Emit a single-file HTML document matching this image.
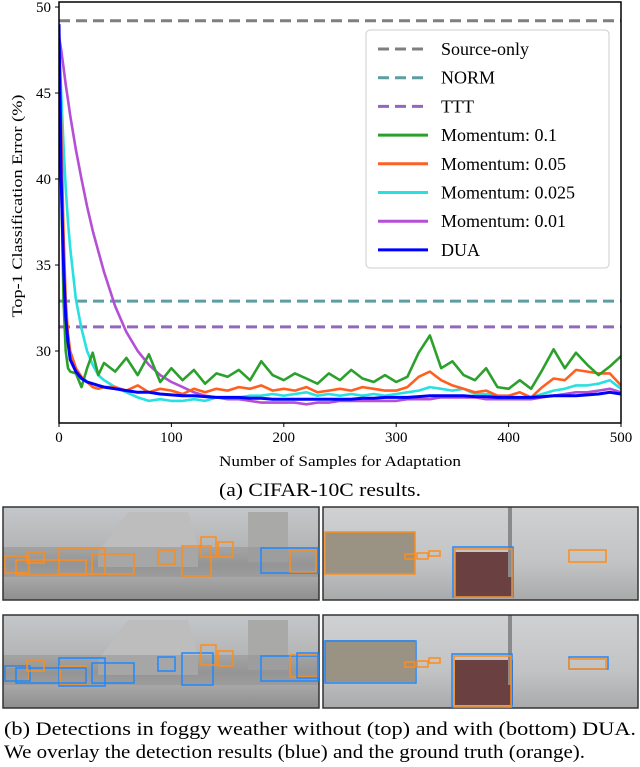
<!DOCTYPE html>
<html><head><meta charset="utf-8"><style>
body{margin:0;background:#fff;width:640px;height:767px;overflow:hidden;font-family:"Liberation Serif",serif}
svg{position:absolute;left:0;top:0}
</style></head><body>
<svg width="640" height="767" viewBox="0 0 640 767">
<defs>
<linearGradient id="fogL" x1="0" y1="0" x2="0" y2="1"><stop offset="0" stop-color="#c4c7ca"/><stop offset="0.45" stop-color="#b3b4b5"/><stop offset="0.62" stop-color="#9a9a9a"/><stop offset="0.75" stop-color="#a8a8a8"/><stop offset="1" stop-color="#8e8e8e"/></linearGradient>
<linearGradient id="fogR" x1="0" y1="0" x2="0" y2="1"><stop offset="0" stop-color="#cfd1d3"/><stop offset="0.6" stop-color="#c2c3c4"/><stop offset="1" stop-color="#a9aaab"/></linearGradient>
</defs>
<g id="chart"></g>
<text x="320" y="496" text-anchor="middle" font-size="19" textLength="202" lengthAdjust="spacingAndGlyphs">(a) CIFAR-10C results.</text>
<g id="photos"></g>
<text x="4" y="735" font-size="19" textLength="632" lengthAdjust="spacingAndGlyphs">(b) Detections in foggy weather without (top) and with (bottom) DUA.</text>
<text x="4" y="758" font-size="19" textLength="581" lengthAdjust="spacingAndGlyphs">We overlay the detection results (blue) and the ground truth (orange).</text>
</svg>
<script>
const xs=[0,2,4,6,8,10,15,20,25,30,35,40,50,60,70,80,90,100,110,120,130,140,150,160,170,180,190,200,210,220,230,240,250,260,270,280,290,300,310,320,330,340,350,360,370,380,390,400,410,420,430,440,450,460,470,480,490,500];
const mom01=[48,40,33,30,29,28.8,28.7,27.9,29,29.9,28.6,29.3,28.8,29.6,28.6,29.8,28.2,29.0,28.3,28.9,28.1,28.7,28.5,28.9,28.3,29.4,28.6,28.3,28.7,28.4,28.1,28.7,28.3,28.9,28.4,28.2,28.6,28.2,28.5,29.9,30.9,29.0,29.4,28.6,28.3,29.0,27.9,27.8,28.3,27.8,28.9,30.1,29.0,29.9,29.2,28.6,29.1,29.7];
const mom005=[48,43,37,33,31,30,29,28.5,28.2,27.9,27.8,27.9,27.9,27.7,28.0,27.6,27.8,27.7,27.5,27.8,27.6,27.8,27.7,27.9,27.8,28.0,27.7,27.8,27.7,27.9,27.6,27.7,27.8,27.7,27.9,27.8,27.7,27.7,27.9,28.5,28.8,28.3,28.0,27.8,27.6,27.7,27.4,27.4,27.6,27.3,27.9,28.4,28.3,28.9,28.8,28.7,28.7,28.0];
const mom0025=[48,45,42,39.5,37.5,36,33,31.3,30,29.2,28.6,28.3,27.9,27.6,27.3,27.1,27.2,27.1,27.1,27.2,27.1,27.3,27.3,27.3,27.4,27.4,27.5,27.4,27.5,27.6,27.4,27.5,27.4,27.5,27.4,27.5,27.4,27.5,27.6,27.7,27.9,27.8,27.7,27.8,27.5,27.5,27.4,27.3,27.3,27.3,27.5,27.7,27.8,28.0,28.0,28.1,28.3,27.8];
const mom001=[48.3,47.5,46.5,45.5,44.6,43.7,41.7,40,38.4,37,35.8,34.6,32.6,31.1,30,29.2,28.6,28.2,27.9,27.6,27.4,27.3,27.2,27.2,27.1,27.0,27.0,27.0,27.0,26.9,27.0,27.0,27.1,27.1,27.1,27.1,27.1,27.1,27.2,27.2,27.2,27.3,27.3,27.3,27.3,27.2,27.2,27.2,27.2,27.2,27.3,27.4,27.5,27.6,27.6,27.7,27.8,27.6];
const dua=[49,40,35,32,30.5,29.5,28.8,28.4,28.2,28.1,28,27.9,27.8,27.7,27.6,27.6,27.5,27.45,27.4,27.4,27.35,27.3,27.3,27.3,27.25,27.25,27.2,27.2,27.2,27.2,27.2,27.2,27.2,27.2,27.25,27.25,27.3,27.3,27.3,27.35,27.4,27.4,27.4,27.4,27.35,27.35,27.3,27.3,27.3,27.3,27.35,27.4,27.4,27.4,27.45,27.5,27.6,27.5];
const baselineNames=["Source-only","NORM","TTT"];
const baselineValues=[49.2,32.9,31.4];
const xTicks=[0,100,200,300,400,500];
const yTicks=[30,35,40,45,50];

const NS="http://www.w3.org/2000/svg";
const L=59,R=621,T=2,B=423;
const X=v=>L+(v/500)*(R-L);
const Y=v=>351-(v-30)*17.2;
const g=document.getElementById('chart');
function mk(tag,attrs,parent){const e=document.createElementNS(NS,tag);for(const k in attrs)e.setAttribute(k,attrs[k]);(parent||g).appendChild(e);return e;}
const clip=mk('clipPath',{id:'pc'});mk('rect',{x:L,y:T,width:R-L,height:B-T},clip);
const plot=mk('g',{'clip-path':'url(#pc)'});
const bcol=["#7f7f7f","#5f9ea0","#9467bd"];
baselineValues.forEach((v,i)=>{
  const l=mk('line',{x1:L,x2:R,y1:Y(v),y2:Y(v),stroke:bcol[i],'stroke-width':3,'stroke-dasharray':'11 6'},plot);
  
  
});
const series=[["momentum-0.01",mom001,"#b44fd6"],["momentum-0.025",mom0025,"#28e0e0"],["momentum-0.05",mom005,"#ff6020"],["momentum-0.1",mom01,"#2ca02c"],["dua",dua,"#0000ff"]];
series.forEach(s=>{
  const d=s[1].map((v,i)=>(i?'L':'M')+X(xs[i]).toFixed(1)+','+Y(v).toFixed(1)).join('');
  const p=mk('path',{d:d,fill:'none',stroke:s[2],'stroke-width':s[0]=='dua'?3:2.6,'stroke-linejoin':'round'},plot);
  
  
});
const frame=mk('rect',{x:L,y:T,width:R-L,height:B-T,fill:'none',stroke:'#000','stroke-width':1.5});


xTicks.forEach(t=>{
  mk('line',{x1:X(t),x2:X(t),y1:B,y2:B+4,stroke:'#000'});
  const tx=mk('text',{x:X(t),y:B+19,'text-anchor':'middle','font-size':15});tx.textContent=t;
  
  
});
yTicks.forEach(t=>{
  mk('line',{x1:L-4,x2:L,y1:Y(t),y2:Y(t),stroke:'#000'});
  const tx=mk('text',{x:L-8,y:Y(t)+5,'text-anchor':'end','font-size':15});tx.textContent=t;
  
  
});
const xt=mk('text',{x:340,y:466,'text-anchor':'middle','font-size':15,textLength:242,lengthAdjust:'spacingAndGlyphs'});xt.textContent='Number of Samples for Adaptation';


const yt=mk('text',{x:0,y:0,'text-anchor':'middle','font-size':15,textLength:223,lengthAdjust:'spacingAndGlyphs',transform:'translate(22,206) rotate(-90)'});yt.textContent='Top-1 Classification Error (%)';


const lg=mk('g',{});


mk('rect',{x:366,y:30,width:243,height:238,rx:4,fill:'#fff','fill-opacity':0.85,stroke:'#ccc'},lg);
const legItems=[["Source-only","#7f7f7f",1],["NORM","#5f9ea0",1],["TTT","#9467bd",1],["Momentum: 0.1","#2ca02c",0],["Momentum: 0.05","#ff6020",0],["Momentum: 0.025","#28e0e0",0],["Momentum: 0.01","#b44fd6",0],["DUA","#0000ff",0]];
legItems.forEach((it,i)=>{
  const y=49+i*28.7;
  const e=mk('g',{},lg);
  
  
  mk('line',{x1:378,x2:428,y1:y,y2:y,stroke:it[1],'stroke-width':3,'stroke-dasharray':it[2]?'11 6':'none'},e);
  const t=mk('text',{x:441,y:y+6,'font-size':18},e);t.textContent=it[0];
});
const ph=document.getElementById('photos');
function panel(x,y,w,h,left,name){
  const gg=mk('g',{},ph);
  
  
  mk('rect',{x:x,y:y,width:w,height:h,fill:left?'url(#fogL)':'url(#fogR)'},gg);
  if(left){
    mk('polygon',{points:`${x+95},${y+45} ${x+125},${y+5} ${x+185},${y+5} ${x+195},${y+40} ${x+195},${y+60} ${x+95},${y+60}`,fill:'#bdbdbd'},gg);
    mk('rect',{x:x+245,y:y+5,width:40,height:50,fill:'#a9aaa8'},gg);
    mk('rect',{x:x,y:y+40,width:w,height:30,fill:'#8f9090','fill-opacity':0.5},gg);
  }else{
    mk('rect',{x:x+2,y:y+25,width:90,height:42,fill:'#9a9384'},gg);
    mk('rect',{x:x+132,y:y+45,width:58,height:45,fill:'#6b4040'},gg);
    mk('rect',{x:x+185,y:y,width:4,height:70,fill:'#8a8a8a'},gg);
  }
  mk('rect',{x:x,y:y,width:w,height:h,fill:'none',stroke:'#333','stroke-width':1.5},gg);
}
panel(3,507,316,93,1,'photo-top-left');
panel(323,507,315,93,0,'photo-top-right');
panel(3,615,316,93,1,'photo-bottom-left');
panel(323,615,315,93,0,'photo-bottom-right');
const O="#ff8c1a",Bl="#1e88ff";
const boxes=[
[5,556,24,17,O],[59,548,46,26,O],[92,554,42,20,O],[158,550,17,14,O],[182,546,29,30,O],[201,537,15,20,O],[218,542,15,15,O],[16,560,70,15,O],[27,552,17,11,O],[261,548,57,25,Bl],[290,550,26,22,O],
[325,532,90,42,O],[405,554,10,5,O],[417,553,11,6,O],[429,551,11,5,O],[453,547,60,50,Bl],[455,549,57,48,O],[569,550,37,12,O],
[5,667,24,14,O],[5,666,25,15,Bl],[59,658,46,28,Bl],[60,666,26,18,O],[92,663,42,20,Bl],[158,657,17,14,Bl],[182,653,31,32,Bl],[201,645,15,20,O],[218,651,15,15,O],[16,668,70,15,Bl],[27,660,17,11,O],[261,656,57,25,Bl],[290,655,28,22,O],[297,653,21,25,Bl],
[325,641,91,42,Bl],[405,662,10,5,O],[417,661,11,6,O],[429,658,11,5,O],[452,654,60,53,Bl],[454,656,57,51,O],[569,657,39,12,Bl],[569,659,37,10,O]];
boxes.forEach(b=>{
  const r=mk('rect',{x:b[0],y:b[1],width:b[2],height:b[3],fill:'none',stroke:b[4],'stroke-width':1.5},ph);
  
  
});
</script>
</body></html>
